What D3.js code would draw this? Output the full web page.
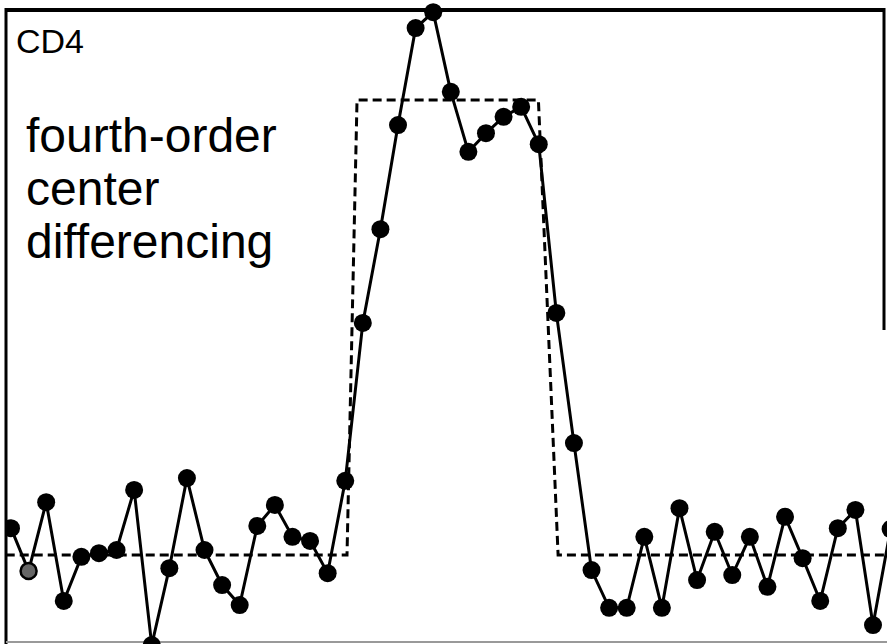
<!DOCTYPE html>
<html>
<head>
<meta charset="utf-8">
<script src="https://cdn.jsdelivr.net/npm/d3@7"></script>
<style>
  body { margin: 0; background: #fff; }
  svg { display: block; }
</style>
</head>
<body>
<svg id="chart" width="887" height="644"></svg>
<script>
// computed solution, one value per grid point (0 = low state, 1 = high state)
const solution = [
  0.059, -0.035, 0.116, -0.101, -0.004, 0.004, 0.011, 0.143, -0.198, -0.029,
  0.169, 0.011, -0.066, -0.110, 0.064, 0.110, 0.040, 0.031, -0.040, 0.163,
  0.510, 0.716, 0.945, 1.158, 1.193, 1.018, 0.886, 0.927, 0.963, 0.985,
  0.903, 0.532, 0.246, -0.033, -0.116, -0.116, 0.040, -0.116, 0.103, -0.055,
  0.051, -0.044, 0.040, -0.070, 0.084, -0.007, -0.101, 0.059, 0.099, -0.154,
  0.057
];
// exact square wave (dashed)
const exactX = [-0.3, 19.1, 19.67, 29.98, 31.1, 50.5];
const exactY = [0, 0, 1, 1, 0, 0];
// grid point drawn with an open marker
const openPoints = [1];

const labelTitle = "CD4";
const labelLines = ["fourth-order", "center", "differencing"];

const svg = d3.select("#chart");

const x = d3.scaleLinear().domain([0, 49]).range([11, 873]);
const y = d3.scaleLinear().domain([0, 1]).range([555, 100]);

//frame, the scanned box has a faded right and bottom edge
svg.append("line")
  .attr("x1", 5).attr("y1", 10).attr("x2", 885).attr("y2", 10)
  .attr("stroke", "#000").attr("stroke-width", 4);
svg.append("line")
  .attr("x1", 6).attr("y1", 8).attr("x2", 6).attr("y2", 644)
  .attr("stroke", "#000").attr("stroke-width", 3);
svg.append("line")
  .attr("x1", 884).attr("y1", 8).attr("x2", 884).attr("y2", 330)
  .attr("stroke", "#000").attr("stroke-width", 3);
svg.append("line")
  .attr("x1", 6).attr("y1", 642).attr("x2", 887).attr("y2", 642)
  .attr("stroke", "#999").attr("stroke-width", 2);

svg.append("clipPath").attr("id", "frame-clip")
  .append("rect")
  .attr("x", 7).attr("y", 0).attr("width", 880).attr("height", 644);

//dashed exact solution
const exactLine = d3.line()
  .x((d) => x(d[0]))
  .y((d) => y(d[1]));

svg.append("path")
  .datum(exactX.map((v, i) => [v, exactY[i]]))
  .attr("clip-path", "url(#frame-clip)")
  .attr("d", exactLine)
  .attr("fill", "none")
  .attr("stroke", "#000")
  .attr("stroke-width", 3)
  .attr("stroke-dasharray", "9,5");

//computed solution with markers
const solLine = d3.line()
  .x((d, i) => x(i))
  .y((d) => y(d));

svg.append("path")
  .datum(solution)
  .attr("clip-path", "url(#frame-clip)")
  .attr("d", solLine)
  .attr("fill", "none")
  .attr("stroke", "#000")
  .attr("stroke-width", 3);

svg.append("g")
  .attr("clip-path", "url(#frame-clip)")
  .selectAll("circle")
  .data(solution)
  .enter()
  .append("circle")
  .attr("cx", (d, i) => x(i))
  .attr("cy", (d) => y(d))
  .attr("r", (d, i) => (openPoints.includes(i) ? 8 : 9))
  .attr("fill", (d, i) => (openPoints.includes(i) ? "#666" : "#000"))
  .attr("stroke", "#000")
  .attr("stroke-width", (d, i) => (openPoints.includes(i) ? 2.5 : 0));

//labels
svg.append("text")
  .attr("x", 16)
  .attr("y", 53)
  .style("font-family", "'Liberation Sans', Arial, sans-serif")
  .style("font-size", "34px")
  .text(labelTitle);

svg.append("g")
  .selectAll("text")
  .data(labelLines)
  .enter()
  .append("text")
  .attr("x", 26)
  .attr("y", (d, i) => 152 + i * 53)
  .style("font-family", "'Liberation Sans', Arial, sans-serif")
  .style("font-size", "48px")
  .text((d) => d);
</script>
</body>
</html>
